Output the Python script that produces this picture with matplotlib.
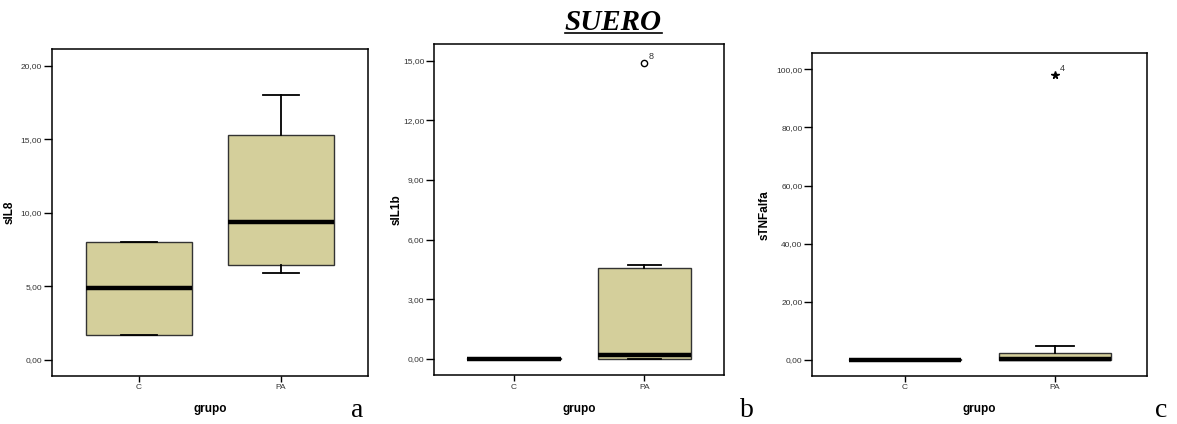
"""Boxplots of serum cytokines (SUERO) by group: sIL8, sIL1b and sTNFalfa."""
import matplotlib
matplotlib.use("Agg")
import matplotlib.pyplot as plt
from matplotlib.lines import Line2D
from matplotlib.ticker import FuncFormatter

plt.rcParams["font.family"] = ["Liberation Sans", "DejaVu Sans"]

groups = ["C", "PA"]

# box stats: [C, PA]
il8_q1 = [1.72, 6.44]
il8_med = [4.88, 9.34]
il8_q3 = [8.03, 15.26]
il8_lo = [1.70, 5.92]
il8_hi = [8.03, 18.03]
il8_fliers = [[], []]

il1b_q1 = [0.0, 0.0]
il1b_med = [0.0, 0.19]
il1b_q3 = [0.03, 4.58]
il1b_lo = [0.0, 0.0]
il1b_hi = [0.03, 4.72]
il1b_fliers = [[], [14.9]]
il1b_flier_ids = ["8"]

tnf_q1 = [0.0, 0.0]
tnf_med = [0.0, 0.3]
tnf_q3 = [0.2, 2.4]
tnf_lo = [0.0, 0.0]
tnf_hi = [0.2, 4.7]
tnf_fliers = [[], [98.1]]
tnf_flier_ids = ["4"]

fill = "#d4cf9b"
txt = "#333333"
comma_fmt = FuncFormatter(lambda v, p: f"{v:.2f}".replace(".", ","))


def panel(rect, q1, med, q3, lo, hi, fliers, ylab, ticks, ylim, width,
          flier_marker=None, flier_ids=()):
    ax = fig.add_axes(rect)
    stats = [dict(med=med[i], q1=q1[i], q3=q3[i], whislo=lo[i], whishi=hi[i],
                  fliers=[]) for i in range(len(groups))]
    ax.bxp(stats, positions=[0, 1], widths=width, capwidths=0.25,
           patch_artist=True, showfliers=False,
           boxprops=dict(facecolor=fill, edgecolor="#333333", linewidth=1.0),
           medianprops=dict(color="black", linewidth=3.2, solid_capstyle="butt"),
           whiskerprops=dict(color="black", linewidth=1.3),
           capprops=dict(color="black", linewidth=1.3))
    for i, fl in enumerate(fliers):
        for j, v in enumerate(fl):
            if flier_marker == "o":
                ax.plot(i, v, "o", mfc="white", mec="black", ms=4.5, mew=1.0)
            else:
                ax.plot(i, v, "*", color="black", ms=5.5)
            ax.annotate(flier_ids[j], (i, v), xytext=(3, 3),
                        textcoords="offset points", fontsize=6.5, color=txt)
    ax.set_xlim(-0.615, 1.612)
    ax.set_ylim(*ylim)
    ax.set_xticks([0, 1])
    ax.set_xticklabels(groups, fontsize=6, color=txt)
    ax.set_yticks(ticks)
    ax.yaxis.set_major_formatter(comma_fmt)
    ax.tick_params(axis="y", labelsize=6, labelcolor=txt, length=6, width=1, pad=1)
    ax.tick_params(axis="x", length=4, width=1, pad=2)
    for s in ax.spines.values():
        s.set_linewidth(1.1)
    ax.set_ylabel(ylab, fontsize=8.5, fontweight="bold")
    ax.set_xlabel("grupo", fontsize=8.5, fontweight="bold")
    return ax


fig = plt.figure(figsize=(11.77, 4.24), dpi=100)

ax_a = panel([0.0439, 0.1132, 0.2687, 0.7705], il8_q1, il8_med, il8_q3,
             il8_lo, il8_hi, il8_fliers, "sIL8", [0, 5, 10, 15, 20],
             (-1.09, 21.1), 0.75)
ax_a.yaxis.set_label_coords(-0.113, 0.5)
ax_a.xaxis.set_label_coords(0.5, -0.083)

ax_b = panel([0.3687, 0.1149, 0.2466, 0.7821], il1b_q1, il1b_med, il1b_q3,
             il1b_lo, il1b_hi, il1b_fliers, "sIL1b", [0, 3, 6, 9, 12, 15],
             (-0.84, 15.87), 0.72, flier_marker="o", flier_ids=il1b_flier_ids)
ax_b.yaxis.set_label_coords(-0.108, 0.5)
ax_b.xaxis.set_label_coords(0.5, -0.083)

ax_c = panel([0.6901, 0.1132, 0.2846, 0.7611], tnf_q1, tnf_med, tnf_q3,
             tnf_lo, tnf_hi, tnf_fliers, "sTNFalfa", [0, 20, 40, 60, 80, 100],
             (-5.5, 105.5), 0.745, flier_marker="*", flier_ids=tnf_flier_ids)
ax_c.yaxis.set_label_coords(-0.123, 0.5)
ax_c.xaxis.set_label_coords(0.5, -0.083)

# panel letters
for x, letter in [(0.3035, "a"), (0.6345, "b"), (0.9865, "c")]:
    fig.text(x, 0.016, letter, family="Liberation Serif", fontsize=20,
             ha="center", va="baseline")

# underlined title
title = fig.text(0.521, 0.93, "SUERO", family="Liberation Serif", fontsize=21,
                 fontweight="bold", fontstyle="italic", ha="center", va="baseline")
fig.canvas.draw()
bb = title.get_window_extent().transformed(fig.transFigure.inverted())
fig.add_artist(Line2D([bb.x0, bb.x1], [0.921, 0.921], color="black", linewidth=1.2,
                      transform=fig.transFigure))

fig.savefig("out.png", dpi=100)
